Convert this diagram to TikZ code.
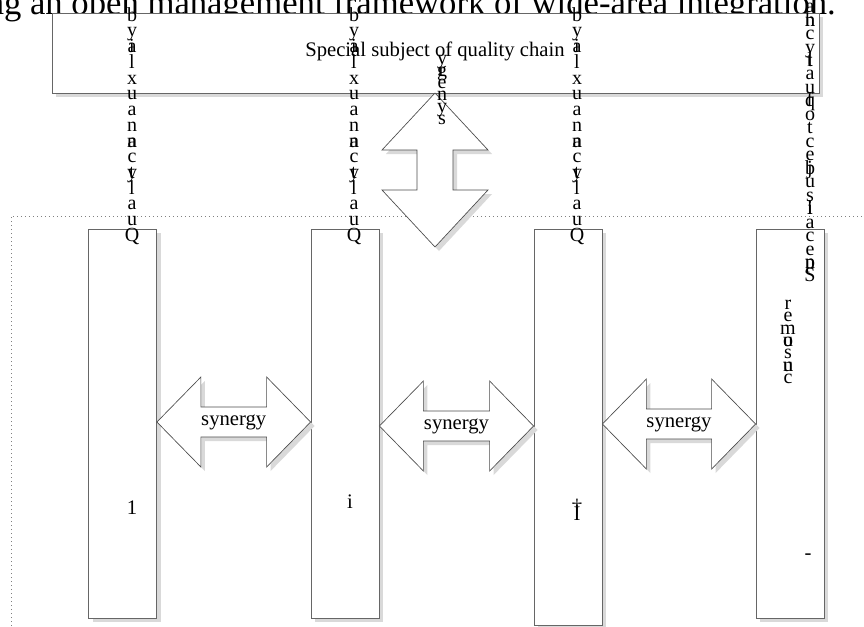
\documentclass[tikz,border=0pt]{standalone}
\usepackage{fontspec}
\setmainfont{Liberation Serif}
\usetikzlibrary{calc,shadows}

\tikzset{
  boxshadow/.style={drop shadow={shadow xshift=3pt,shadow yshift=-3pt,fill=black!15,opacity=1}},
  panel/.style={draw=black!60,fill=white,line width=0.6pt,boxshadow,inner sep=0pt},
  colbox/.style={panel,minimum width=51pt,minimum height=291.75pt},
  synshape/.style={draw=black!70,fill=white,line width=0.5pt,boxshadow},
  lbl/.style={inner sep=0pt,font=\fontsize{15.5}{18}\selectfont},
  vtext/.style={align=center,inner sep=0pt,anchor=north,font=\fontsize{15}{#1}\selectfont},
  frame/.style={black!50,dash pattern=on 0.6pt off 2.4pt},
}
\newcommand{\ovl}[2]{\hbox to 0pt{\hss#1\hss}\hbox to 0pt{\hss#2\hss}}
% double arrow between two named coordinates #1l and #1r
\newcommand{\synpath}[1]{(#1l) -- ++(44,-45) -- ++(0,30) -- ($(#1r)+(-44,-15)$) -- ++(0,-30)
  -- (#1r) -- ++(-44,45) -- ++(0,-30) -- ($(#1l)+(44,15)$) -- ++(0,30) -- cycle}

\begin{document}
\lineskiplimit=-50pt
\begin{tikzpicture}[x=0.75pt,y=-0.75pt]
    \useasboundingbox (0,0) rectangle (864,626);
    \clip (0,0) rectangle (864,626);

    \node[anchor=base east,inner sep=0pt,font=\fontsize{26}{30}\selectfont] (title) at (836,14)
        {ing an open management framework of wide-area integration.};

    % dotted frame round the columns
    \coordinate (fl) at (11,626);
    \coordinate (fc) at (11,216);
    \coordinate (fr) at (864,216);
    \draw[frame] (fl) -- (fc) -- (fr);

    % top box
    \node[panel,minimum width=575.25pt,minimum height=60pt] (chain) at (435.5,53) {};
    \node[lbl] (chaintxt) at (435,51) {Special subject of quality chain};

    % vertical arrow below the top box
    \coordinate (vt) at (435,93);
    \coordinate (vb) at (435,247);
    \draw[synshape] (vt) -- ++(53,57) -- ++(-35,0) -- ($(vb)+(18,-57)$) -- ++(35,0) -- (vb)
        -- ++(-53,-57) -- ++(35,0) -- ($(vt)+(-18,57)$) -- ++(-35,0) -- cycle;

    % columns
    \node[colbox] (c1) at (122.5,423.5) {};
    \node[colbox] (c2) at (345,423.5) {};
    \node[colbox,minimum height=297pt] (c3) at (568,427) {};
    \node[colbox] (c4) at (790,423.5) {};

    % synergy arrows
    \coordinate (y1) at (0,422);
    \coordinate (y2) at (0,426);
    \coordinate (y3) at (0,424);
    \coordinate (al) at (c1.east |- y1);
    \coordinate (ar) at (c2.west |- y1);
    \coordinate (bl) at (c2.east |- y2);
    \coordinate (br) at (c3.west |- y2);
    \coordinate (cl) at (c3.east |- y3);
    \coordinate (cr) at (c4.west |- y3);
    \draw[synshape] \synpath{a};
    \draw[synshape] \synpath{b};
    \draw[synshape] \synpath{c};
    \node[lbl] (syn1) at ($(al)!0.5!(ar)$) {synergy};
    \node[lbl] (syn2) at ($(bl)!0.5!(br)$) {synergy};
    \node[lbl] (syn3) at ($(cl)!0.5!(cr)$) {synergy};

    % labels inside the columns
    \node[lbl] (n1) at (132,508) {1};
    \node[lbl] (n2) at (350,502) {i};
    \node[lbl] (n3) at (577,510) {\ovl{\raisebox{5pt}{\textdagger}}{I}};
    \node[lbl] (n4) at (808,557) {-};

    % stacked letters
    \foreach \cx [count=\i] in {132,354,577}
        \node[vtext=11.8] (q\i) at (\cx,7)
            {b\\y\\\ovl{a}{i}\\l\\x\\u\\a\\n\\\ovl{a}{n}\\c\\\ovl{y}{t}\\l\\a\\u\\Q};
    \node[vtext=10.1] (sp) at (810,3)
        {a\\\ovl{h}{n}\\c\\y\\\ovl{t}{l}\\a\\u\\\ovl{q}{f}\\o\\t\\c\\e\\\ovl{j}{b}\\u\\s\\\ovl{l}{i}\\a\\c\\e\\\ovl{p}{n}\\S};
    \node[vtext=9] (sy) at (442,55) {y\\\ovl{g}{r}\\e\\n\\y\\s};
    \node[vtext=9.2] (cs) at (788,300) {r\\e\\m\\\ovl{o}{u}\\s\\\ovl{u}{n}\\c};
\end{tikzpicture}
\end{document}
